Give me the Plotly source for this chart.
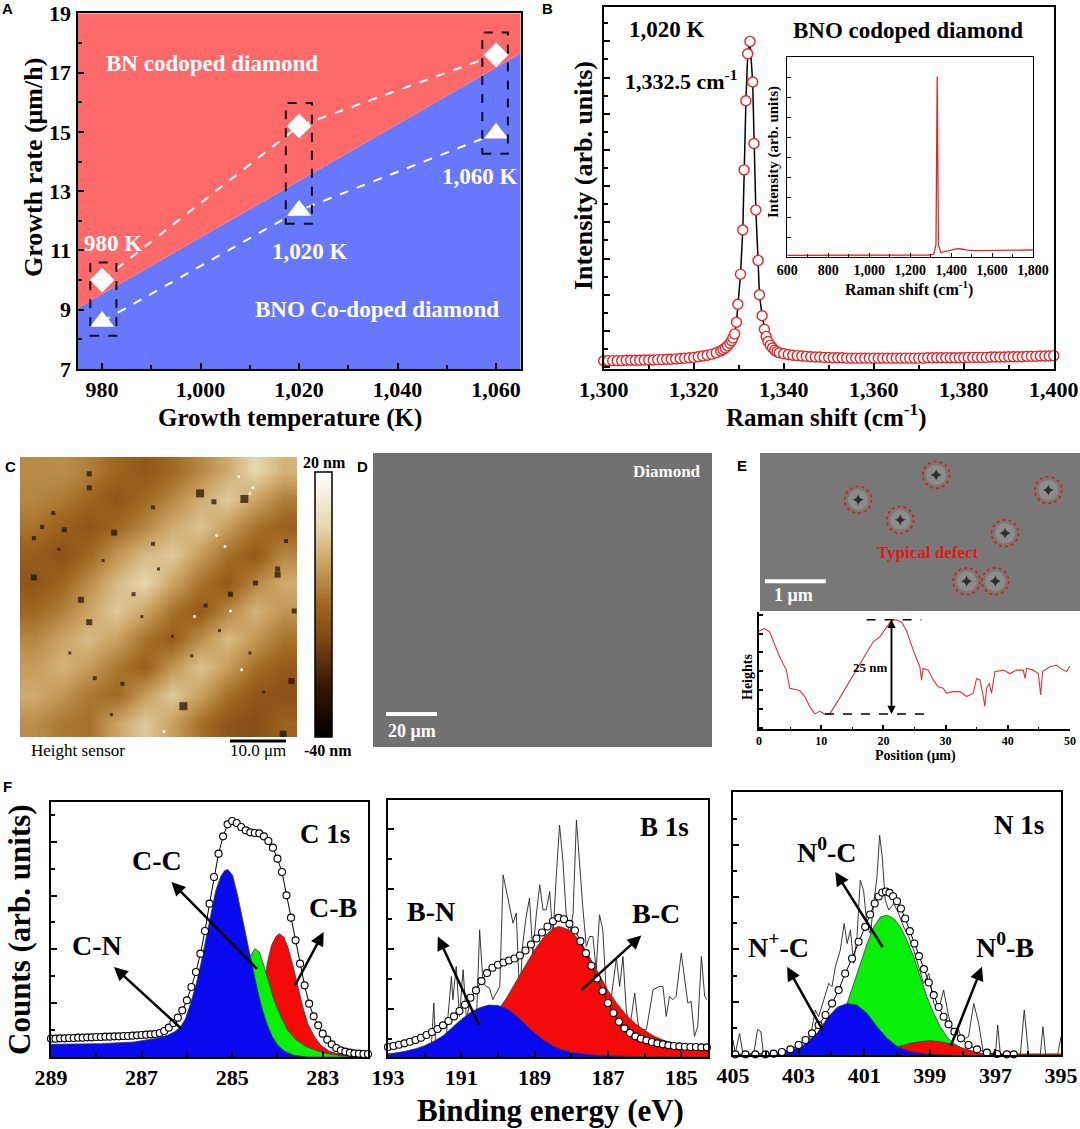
import plotly.graph_objects as go

W, H = 1080, 1129
SERIF = "Liberation Serif"
SANS = "Liberation Sans"
RED_A = "#FE6A6A"
BLUE_A = "#6878FD"
RAMAN_RED = "#E0262A"

# ---------------- A: growth rate vs temperature ----------------
temp_K = [980, 1020, 1060]
rate_BN = [10.0, 15.2, 17.6]
rate_BNO = [8.6, 12.35, 14.95]
boundary_T = [975, 1065]
boundary_rate = [9.05, 17.65]
top_rate = [19, 19]
box_T0 = [977.6, 1017.3, 1057.2]
box_T1 = [982.9, 1022.6, 1062.4]
box_r0 = [8.12, 11.90, 14.26]
box_r1 = [10.59, 15.97, 18.35]
temp_labels = ["980 K", "1,020 K", "1,060 K"]
temp_label_T = [982.3, 1022.2, 1056.8]
temp_label_r = [11.25, 10.97, 13.49]

# ---------------- B: Raman ----------------
raman_x = [1300, 1301, 1302, 1303, 1304, 1305, 1306, 1307, 1308, 1309, 1310, 1311, 1312, 1313,
           1314, 1315, 1316, 1317, 1318, 1319, 1320, 1321, 1322, 1323, 1324, 1325, 1326,
           1326.5, 1327, 1327.5, 1328, 1328.4, 1328.7, 1329.1, 1329.5, 1329.8, 1330.4, 1330.9,
           1331.2, 1331.6, 1332.0, 1332.5, 1333.1, 1333.4, 1333.8, 1334.3, 1334.6, 1335.2,
           1335.7, 1336.1, 1336.5, 1337.0, 1337.5, 1338, 1338.5, 1339,
           1340, 1341, 1342, 1343, 1344, 1345, 1346, 1347, 1348, 1349, 1350, 1351, 1352, 1353,
           1354, 1355, 1356, 1357, 1358, 1359, 1360, 1361, 1362, 1363, 1364, 1365, 1366, 1367,
           1368, 1369, 1370, 1371, 1372, 1373, 1374, 1375, 1376, 1377, 1378, 1379, 1380, 1381,
           1382, 1383, 1384, 1385, 1386, 1387, 1388, 1389, 1390, 1391, 1392, 1393, 1394, 1395,
           1396, 1397, 1398, 1399, 1400]
raman_y = [23, 23, 23, 23, 23, 24, 24, 24, 24, 25, 25, 25, 26, 26,
           27, 27, 28, 29, 30, 31, 32, 34, 36, 38, 41, 45, 50,
           54, 58, 64, 71, 78, 86, 97, 129, 179, 262, 384,
           550, 741, 871, 905, 793, 623, 439, 300, 205, 147,
           110, 90, 76, 66, 58, 52, 48, 45,
           42, 40, 38, 37, 36, 35, 34, 33, 33, 32, 32, 31, 31, 31,
           30, 30, 30, 30, 30, 30, 30, 30, 30, 30, 30, 30, 30, 30,
           30, 30, 30, 30, 31, 31, 31, 31, 31, 31, 31, 31, 31, 32,
           32, 32, 32, 32, 33, 33, 33, 33, 34, 34, 34, 34, 35, 35,
           35, 36, 36, 36, 37]
inset_x = [600, 800, 1000, 1200, 1290, 1315, 1326, 1332, 1338, 1350, 1380, 1410, 1430, 1450,
           1480, 1520, 1600, 1700, 1800]
inset_y = [8, 8, 8, 9, 10, 14, 60, 903, 60, 22, 30, 40, 42, 40, 34, 32, 32, 33, 35]

# ---------------- C: AFM height map (coarse readings, 0 = -40 nm, 1 = 20 nm) ----------------
afm_cols = [0.05, 0.15, 0.25, 0.35, 0.45, 0.55, 0.65, 0.75, 0.85, 0.95]
afm_rows = [0.05, 0.15, 0.25, 0.35, 0.45, 0.55, 0.65, 0.75, 0.85, 0.95]
afm_height = [
    [0.59, 0.60, 0.56, 0.49, 0.44, 0.50, 0.58, 0.68, 0.80, 0.70],
    [0.58, 0.55, 0.49, 0.43, 0.50, 0.58, 0.68, 0.76, 0.66, 0.56],
    [0.53, 0.47, 0.43, 0.50, 0.58, 0.68, 0.74, 0.64, 0.53, 0.47],
    [0.46, 0.42, 0.50, 0.62, 0.72, 0.76, 0.64, 0.52, 0.45, 0.58],
    [0.43, 0.49, 0.60, 0.72, 0.80, 0.66, 0.53, 0.45, 0.58, 0.68],
    [0.50, 0.56, 0.66, 0.76, 0.66, 0.53, 0.45, 0.58, 0.70, 0.62],
    [0.58, 0.66, 0.72, 0.65, 0.53, 0.46, 0.60, 0.72, 0.63, 0.53],
    [0.64, 0.70, 0.64, 0.54, 0.47, 0.62, 0.74, 0.64, 0.52, 0.45],
    [0.68, 0.62, 0.54, 0.50, 0.64, 0.76, 0.65, 0.52, 0.44, 0.42],
    [0.60, 0.54, 0.52, 0.66, 0.76, 0.65, 0.52, 0.43, 0.40, 0.48],
]
pit_x = [0.25, 0.25, 0.65, 0.81, 0.70, 0.48, 0.34, 0.08, 0.05, 0.16, 0.05, 0.22, 0.25, 0.41,
         0.93, 0.93, 0.85, 0.76, 0.67, 0.99, 0.59, 0.98, 0.95, 0.37, 0.27, 0.48, 0.96, 0.12, 0.30,
         0.14, 0.55, 0.62, 0.44, 0.72, 0.83, 0.18, 0.33, 0.50, 0.88]
pit_y = [0.06, 0.11, 0.13, 0.15, 0.16, 0.18, 0.27, 0.25, 0.29, 0.26, 0.43, 0.51, 0.59, 0.49,
         0.40, 0.42, 0.45, 0.49, 0.53, 0.55, 0.89, 0.80, 0.99, 0.81, 0.79, 0.31, 0.30, 0.20, 0.37,
         0.33, 0.64, 0.71, 0.57, 0.62, 0.70, 0.70, 0.92, 0.40, 0.84]
pit_size = [5, 5, 8, 8, 5, 4, 6, 4, 4, 5, 6, 6, 6, 4, 5, 6, 5, 5, 4, 5, 8, 6, 7, 4, 4, 4, 4, 4, 3,
            3, 3, 3, 3, 3, 3, 3, 3, 3, 3]
speck_x = [0.84, 0.83, 0.71, 0.74, 0.79, 0.63, 0.52, 0.80, 0.76]
speck_y = [0.11, 0.13, 0.28, 0.32, 0.07, 0.57, 0.98, 0.76, 0.55]

# ---------------- E: SEM defects and height profile ----------------
defect_x = [1.61, 2.30, 2.89, 4.73, 4.02, 3.39, 3.86]
defect_y = [0.77, 1.10, 0.36, 0.61, 1.32, 2.11, 2.11]
defect_r = 0.22
prof_x = [0, 0.91, 1.72, 2.52, 3.33, 4.40, 4.94, 6.01, 6.55, 7.35, 8.15, 8.96, 9.76, 10.57,
          11.37, 12.45, 14.06, 15.67, 17.27, 18.35, 19.42, 20.49, 21.30, 22.10, 22.91, 23.71,
          24.79, 25.86, 26.13, 26.39, 27.20, 28.00, 28.81, 29.61, 30.15, 31.22, 32.30, 33.37,
          34.44, 34.98, 35.52, 36.05, 36.32, 36.59, 37.02, 37.39, 37.93, 39.27, 40.34, 41.42,
          42.49, 42.76, 43.03, 44.10, 44.90, 45.28, 45.60, 46.78, 47.85, 48.93, 49.46, 50.0]
prof_y = [26.0, 26.6, 25.7, 22.6, 19.1, 15.6, 10.8, 10.4, 10.2, 8.6, 6.0, 4.0, 4.7, 3.95,
          4.0, 6.8, 11.2, 15.6, 20.0, 23.1, 24.4, 27.0, 28.8, 28.95, 28.3, 26.1,
          20.9, 16.5, 13.0, 16.1, 15.6, 13.0, 11.2, 10.8, 9.5, 9.9, 9.9, 8.6,
          9.5, 13.4, 13.0, 8.6, 6.0, 10.8, 12.1, 9.5, 15.2, 15.6, 14.7, 15.6,
          15.6, 13.4, 16.1, 15.6, 14.7, 9.0, 15.2, 16.5, 16.9, 15.6, 15.2, 16.7]
step_top = 28.95
step_bottom = 3.95
step_pos = 21.3

# ---------------- F: XPS ----------------
c1s_env_x = [289.0, 288.9, 288.8, 288.7, 288.6, 288.5, 288.4, 288.3, 288.2, 288.1, 288.0, 287.9,
             287.8, 287.7, 287.6, 287.5, 287.4, 287.3, 287.2, 287.1, 287.0, 286.9, 286.8, 286.7,
             286.6, 286.5, 286.4, 286.3, 286.2, 286.1, 286.0, 285.9, 285.8, 285.7, 285.6, 285.5,
             285.4, 285.3, 285.2, 285.1, 285.0, 284.9, 284.8, 284.7, 284.6, 284.5, 284.4, 284.3,
             284.2, 284.1, 284.0, 283.9, 283.8, 283.7, 283.6, 283.5, 283.4, 283.3, 283.2, 283.1,
             283.0, 282.9, 282.8, 282.7, 282.6, 282.5, 282.4, 282.3, 282.2, 282.1, 282.0]
c1s_env_y = [55, 55, 56, 56, 57, 57, 58, 58, 59, 59, 60, 60,
             61, 61, 62, 62, 63, 63, 64, 65, 66, 67, 68, 69,
             72, 78, 88, 102, 118, 140, 170, 210, 255, 310, 378, 460,
             540, 610, 662, 698, 708, 702, 690, 680, 674, 672, 671, 662,
             648, 628, 595, 555, 485, 418, 350, 280, 215, 160, 122, 95,
             70, 52, 38, 27, 20, 16, 13, 11, 10, 9, 9]
c1s_blue_x = [289.0, 287.91, 287.17, 286.73, 286.43, 286.28, 286.14, 286.03, 285.92, 285.80,
              285.69, 285.58, 285.47, 285.36, 285.25, 285.16, 285.09, 284.99, 284.88, 284.77,
              284.66, 284.55, 284.44, 284.33, 284.22, 284.11, 283.99, 283.85, 283.63, 283.33, 282.0]
c1s_blue_y = [38, 40, 45, 55, 65, 75, 90, 115, 160, 215, 280, 355, 430, 500, 542, 560, 562, 545,
              485, 410, 340, 270, 200, 140, 95, 60, 35, 18, 5, 0, 0]
c1s_green_x = [285.3, 285.03, 284.88, 284.77, 284.66, 284.59, 284.50, 284.40, 284.29, 284.18,
               284.07, 283.92, 283.77, 283.59, 283.37, 283.11, 282.82, 282.45, 282.0]
c1s_green_y = [0, 20, 60, 130, 240, 305, 325, 315, 270, 220, 170, 120, 80, 52, 32, 18, 8, 2, 0]
c1s_red_x = [284.7, 284.62, 284.51, 284.42, 284.35, 284.28, 284.22, 284.13, 284.03, 283.96,
             283.86, 283.77, 283.66, 283.55, 283.44, 283.33, 283.18, 283.04, 282.85, 282.59,
             282.30, 282.0]
c1s_red_y = [0, 5, 25, 70, 140, 230, 285, 335, 362, 370, 360, 330, 275, 210, 150, 100, 60, 35,
             17, 7, 2, 0]

b1s_env_x = [193.0, 192.85, 192.7, 192.55, 192.4, 192.25, 192.1, 191.95, 191.8, 191.65, 191.5,
             191.35, 191.2, 191.05, 190.9, 190.75, 190.6, 190.45, 190.3, 190.15, 190.0, 189.85,
             189.7, 189.55, 189.4, 189.25, 189.1, 188.95, 188.8, 188.65, 188.5, 188.35, 188.2,
             188.05, 187.9, 187.75, 187.6, 187.45, 187.3, 187.15, 187.0, 186.85, 186.7, 186.55,
             186.4, 186.25, 186.1, 185.95, 185.8, 185.65, 185.5, 185.35, 185.2, 185.05, 184.9,
             184.75, 184.6, 184.45, 184.3]
b1s_env_y = [30, 33, 37, 41, 46, 51, 58, 66, 75, 84, 95, 108, 122, 138, 157, 178, 200, 228, 252,
             268, 277, 284, 290, 296, 305, 320, 338, 356, 374, 392, 408, 418, 414, 400, 380, 348,
             312, 274, 236, 198, 162, 132, 106, 86, 72, 62, 55, 50, 45, 41, 38, 35, 33, 32, 31,
             30, 30, 29, 29]
b1s_blue_x = [193.0, 192.75, 192.5, 192.25, 192.0, 191.75, 191.5, 191.25, 191.0, 190.75, 190.5,
              190.25, 190.0, 189.75, 189.5, 189.25, 189.0, 188.75, 188.5, 188.25, 188.0, 187.5,
              187.0, 186.0, 184.27]
b1s_blue_y = [7, 12, 18, 25, 34, 47, 64, 88, 113, 134, 148, 156, 155, 145, 124, 98, 72, 50, 33,
              22, 14, 7, 4, 1, 0]
b1s_red_x = [193.0, 192.5, 192.0, 191.5, 191.0, 190.5, 190.25, 190.0, 189.75, 189.5, 189.25,
             189.0, 188.75, 188.5, 188.35, 188.25, 188.0, 187.75, 187.5, 187.25, 187.0, 186.75,
             186.5, 186.25, 186.0, 185.75, 185.5, 185.25, 185.0, 184.75, 184.5, 184.27]
b1s_red_y = [10, 14, 20, 30, 48, 80, 108, 140, 180, 228, 275, 322, 360, 386, 392, 390, 378, 346,
             300, 250, 200, 160, 126, 100, 80, 63, 51, 42, 35, 30, 26, 23]
b1s_raw_x = [193.0, 192.59, 192.14, 191.82, 191.75, 191.70, 191.41, 191.27, 191.23, 191.14,
             191.05, 190.95, 190.86, 190.77, 190.59, 190.50, 190.41, 190.32, 190.23, 190.14,
             190.05, 189.95, 189.86, 189.77, 189.68, 189.59, 189.50, 189.41, 189.32, 189.23,
             189.14, 189.05, 188.95, 188.86, 188.77, 188.68, 188.59, 188.50, 188.41, 188.32,
             188.23, 188.14, 188.05, 187.95, 187.86, 187.77, 187.68, 187.59, 187.50, 187.41,
             187.32, 187.23, 187.14, 187.05, 186.95, 186.77, 186.68, 186.59, 186.50, 186.41,
             186.27, 186.18, 186.14, 185.95, 185.86, 185.77, 185.59, 185.50, 185.41, 185.32,
             185.23, 185.14, 185.00, 184.91, 184.82, 184.73, 184.64, 184.55, 184.45, 184.36,
             184.30]
b1s_raw_y = [7, 12, 17, 27, 162, 32, 62, 242, 172, 272, 122, 262, 112, 162, 102, 382, 222, 212,
             207, 172, 192, 212, 547, 502, 452, 402, 432, 182, 342, 422, 477, 312, 432, 517, 442,
             442, 497, 362, 542, 697, 592, 432, 362, 432, 712, 562, 442, 332, 362, 362, 262, 427,
             382, 202, 142, 297, 212, 302, 142, 82, 192, 102, 82, 82, 142, 202, 212, 212, 122,
             182, 172, 182, 312, 242, 162, 167, 62, 92, 302, 182, 172]

n1s_env_x = [404.93, 404.62, 404.32, 404.01, 403.76, 403.51, 403.25, 403.0, 402.79, 402.59,
             402.39, 402.18, 401.98, 401.78, 401.58, 401.37, 401.17, 400.97, 400.82, 400.68,
             400.56, 400.45, 400.34, 400.23, 400.12, 400.0, 399.88, 399.75, 399.61, 399.47,
             399.33, 399.18, 399.03, 398.88, 398.73, 398.58, 398.43, 398.25, 398.05, 397.82,
             397.56, 397.26, 396.95, 396.65, 396.44]
n1s_env_y = [2, 2, 2, 2, 4, 9, 17, 30, 45, 65, 90, 120, 155, 195, 245, 290, 340, 385, 422, 455,
             476, 488, 491, 487, 477, 462, 440, 410, 372, 335, 297, 258, 218, 180, 144, 115, 92,
             70, 50, 30, 17, 7, 3, 2, 2]
n1s_blue_x = [404.0, 403.86, 403.35, 402.85, 402.44, 402.13, 401.83, 401.52, 401.22, 400.91,
              400.61, 400.30, 399.99, 399.59, 399.08, 398.3]
n1s_blue_y = [0, 3, 10, 30, 65, 110, 143, 155, 150, 125, 85, 50, 25, 10, 3, 0]
n1s_green_x = [402.8, 402.34, 401.93, 401.73, 401.52, 401.32, 401.12, 400.91, 400.71, 400.50,
               400.30, 400.10, 399.90, 399.70, 399.49, 399.29, 399.09, 398.88, 398.68, 398.48,
               398.27, 397.97, 397.46, 396.9]
n1s_green_y = [0, 15, 55, 95, 155, 215, 275, 335, 385, 415, 420, 410, 385, 345, 295, 235, 175,
               125, 85, 55, 35, 17, 5, 0]
n1s_red_x = [404.2, 403.35, 402.34, 401.32, 400.50, 399.99, 399.59, 399.29, 398.98, 398.68,
             398.37, 398.07, 397.76, 397.46, 397.05, 395.0]
n1s_red_y = [0, 2, 5, 10, 17, 25, 35, 40, 43, 40, 33, 23, 13, 5, 3, 3]
n1s_raw_x = [405.0, 404.93, 404.80, 404.70, 404.37, 404.25, 404.15, 404.07, 403.35, 402.85,
             402.64, 402.49, 402.39, 402.24, 402.08, 401.98, 401.88, 401.73, 401.61, 401.52,
             401.42, 401.32, 401.22, 401.12, 401.02, 400.91, 400.81, 400.71, 400.61, 400.53,
             400.45, 400.36, 400.25, 400.10, 399.95, 399.80, 399.64, 399.49, 399.34, 399.19,
             399.03, 398.88, 398.73, 398.58, 398.42, 398.27, 398.15, 398.02, 397.82, 397.66,
             397.51, 397.36, 397.00, 396.93, 396.85, 396.24, 396.12, 395.99, 395.63, 395.55,
             395.47, 395.10, 395.0]
n1s_raw_y = [45, 5, 65, 5, 2, 77, 70, 2, 2, 15, 55, 135, 115, 165, 215, 205, 265, 315, 395,
             335, 375, 275, 355, 525, 495, 385, 365, 455, 535, 660, 595, 465, 435, 455, 425, 385,
             355, 315, 265, 215, 245, 155, 135, 195, 115, 65, 85, 45, 55, 155, 95, 2, 2, 90, 2,
             2, 135, 2, 2, 85, 2, 2, 55]

# ======================= helpers =======================
def xd(a, b):
    return [a / W, b / W]


def yd(top, bottom):
    return [1 - bottom / H, 1 - top / H]


def px(x):
    return x / W


def py(y):
    return 1 - y / H


annotations = []
shapes = []


def txt(x, y, s, size, color="black", bold=True, family=SERIF, angle=0, xanchor="center",
        yanchor="middle"):
    annotations.append(dict(x=px(x), y=py(y), xref="paper", yref="paper",
                            text=("<b>%s</b>" % s) if bold else s, showarrow=False,
                            font=dict(family=family, size=size, color=color), textangle=angle,
                            xanchor=xanchor, yanchor=yanchor))


def txtd(x, y, s, size, xr, yr, color="black", bold=True, family=SERIF):
    annotations.append(dict(x=x, y=y, xref=xr, yref=yr, text=("<b>%s</b>" % s) if bold else s,
                            showarrow=False, font=dict(family=family, size=size, color=color)))


def arrow(hx, hy, tx, ty, xr, yr, width=2.5, color="black"):
    annotations.append(dict(x=hx, y=hy, ax=tx, ay=ty, xref=xr, yref=yr, axref=xr, ayref=yr,
                            text="", showarrow=True, arrowhead=2, arrowsize=1.1,
                            arrowwidth=width, arrowcolor=color))


fig = go.Figure()
NOHOVER = "skip"

# ======================= A =======================
fig.add_trace(go.Scatter(x=boundary_T, y=boundary_rate, mode="lines", line=dict(width=0),
                         fill="tozeroy", fillcolor=BLUE_A, xaxis="x", yaxis="y", hoverinfo=NOHOVER))
fig.add_trace(go.Scatter(x=boundary_T, y=top_rate, mode="lines", line=dict(width=0),
                         fill="tonexty", fillcolor=RED_A, xaxis="x", yaxis="y", hoverinfo=NOHOVER))
fig.add_trace(go.Scatter(x=temp_K, y=rate_BN, mode="lines+markers",
                         line=dict(color="white", width=2, dash="dash"),
                         marker=dict(symbol="diamond", size=19, color="white", line=dict(width=0)),
                         xaxis="x", yaxis="y"))
fig.add_trace(go.Scatter(x=temp_K, y=rate_BNO, mode="lines+markers",
                         line=dict(color="white", width=2, dash="dash"),
                         marker=dict(symbol="triangle-up", size=21, color="white", line=dict(width=0)),
                         xaxis="x", yaxis="y"))
for i in range(len(temp_K)):
    shapes.append(dict(type="rect", xref="x", yref="y", x0=box_T0[i], x1=box_T1[i], y0=box_r0[i],
                       y1=box_r1[i], line=dict(color="#111", width=2, dash="dash")))
    txtd(temp_label_T[i], temp_label_r[i], temp_labels[i], 23, "x", "y", color="white")
txtd(1002.3, 17.31, "BN codoped diamond", 23, "x", "y", color="white")
txtd(1035.8, 9.02, "BNO Co-doped diamond", 23, "x", "y", color="white")
txt(7, 8, "A", 15, family=SANS)
txt(33, 168, "Growth rate (μm/h)", 26, angle=-90)
txt(290, 418, "Growth temperature (K)", 25)

# ======================= B =======================
fit_x = [v for v in raman_x if 1328.6 <= v <= 1336.6]
fit_y = [raman_y[i] for i, v in enumerate(raman_x) if 1328.6 <= v <= 1336.6]
fig.add_trace(go.Scatter(x=fit_x, y=fit_y, mode="lines", line=dict(color="black", width=1.5),
                         xaxis="x2", yaxis="y2", hoverinfo=NOHOVER))
fig.add_trace(go.Scatter(x=raman_x, y=raman_y, mode="markers",
                         marker=dict(symbol="circle", size=10, color="white",
                                     line=dict(color=RAMAN_RED, width=1.4)),
                         xaxis="x2", yaxis="y2", cliponaxis=False))
fig.add_trace(go.Scatter(x=inset_x, y=inset_y, mode="lines", line=dict(color=RAMAN_RED, width=1.3),
                         xaxis="x3", yaxis="y3"))
txt(547, 8, "B", 15, family=SANS)
txt(667, 30, "1,020 K", 23)
txt(908, 31, "BNO codoped diamond", 23)
txt(681, 80, "1,332.5 cm<sup>-1</sup>", 22)
txt(583, 176, "Intensity (arb. units)", 26, angle=-90)
txt(826, 415, "Raman shift (cm<sup>-1</sup>)", 25)
txt(774, 152, "Intensity (arb. units)", 15, angle=-90)
txt(909, 288, "Raman shift (cm<sup>-1</sup>)", 16)

# ======================= C =======================
AFM_SCALE = [[0.0, "#000000"], [0.2, "#3a1800"], [0.35, "#7a4010"], [0.5, "#a06820"],
             [0.65, "#c9a060"], [0.8, "#e8d8b0"], [1.0, "#ffffff"]]
fig.add_trace(go.Heatmap(z=afm_height, x=afm_cols, y=afm_rows, zmin=0, zmax=1, zsmooth="best",
                         colorscale=AFM_SCALE, xaxis="x4", yaxis="y4", hoverinfo=NOHOVER,
                         colorbar=dict(x=px(315), xanchor="left", xref="paper", y=py(472),
                                       yanchor="top", yref="paper", len=265, lenmode="pixels",
                                       thickness=17, thicknessmode="pixels", outlinewidth=1.5,
                                       outlinecolor="black", showticklabels=False, ticks="",
                                       xpad=0, ypad=0)))
fig.add_trace(go.Scatter(x=pit_x, y=pit_y, mode="markers",
                         marker=dict(symbol="square", size=pit_size, color="#1e0c00",
                                     line=dict(width=0)),
                         xaxis="x4", yaxis="y4"))
fig.add_trace(go.Scatter(x=speck_x, y=speck_y, mode="markers",
                         marker=dict(symbol="circle", size=3, color="#fff6dc", line=dict(width=0)),
                         xaxis="x4", yaxis="y4"))
txt(10, 466, "C", 15, family=SANS)
txt(78, 751, "Height sensor", 17, bold=False)
txt(258, 751, "10.0 μm", 17, bold=False)
shapes.append(dict(type="line", xref="paper", yref="paper", x0=px(230), x1=px(286), y0=py(741),
                   y1=py(741), line=dict(color="black", width=3)))
txt(324, 462, "20 nm", 16)
txt(328, 751, "-40 nm", 16)

# ======================= D =======================
shapes.append(dict(type="rect", xref="paper", yref="paper", x0=px(373), x1=px(712), y0=py(747),
                   y1=py(453), fillcolor="#717171", line=dict(width=0), layer="below"))
shapes.append(dict(type="line", xref="paper", yref="paper", x0=px(386), x1=px(437), y0=py(714),
                   y1=py(714), line=dict(color="white", width=4)))
txt(362, 466, "D", 15, family=SANS)
txt(667, 472, "Diamond", 17, color="white")
txt(412, 731, "20 μm", 18, color="white")

# ======================= E =======================
shapes.append(dict(type="rect", xref="x5", yref="y5", x0=0, x1=5.25, y0=0, y1=2.6,
                   fillcolor="#787878", line=dict(width=0), layer="below"))
fig.add_trace(go.Scatter(x=defect_x, y=defect_y, mode="markers",
                         marker=dict(symbol="circle", size=20, color="#8c8c8c", line=dict(width=0)),
                         xaxis="x5", yaxis="y5"))
fig.add_trace(go.Scatter(x=defect_x, y=defect_y, mode="markers",
                         marker=dict(symbol="star-diamond", size=8, color="#2e2e2e",
                                     line=dict(width=0)),
                         xaxis="x5", yaxis="y5"))
for i in range(len(defect_x)):
    shapes.append(dict(type="circle", xref="x5", yref="y5", x0=defect_x[i] - defect_r,
                       x1=defect_x[i] + defect_r, y0=defect_y[i] - defect_r,
                       y1=defect_y[i] + defect_r, line=dict(color="#E01818", width=1.6, dash="dot")))
shapes.append(dict(type="line", xref="x5", yref="y5", x0=0.08, x1=1.08, y0=2.11, y1=2.11,
                   line=dict(color="white", width=4)))
txtd(0.55, 2.34, "1 μm", 18, "x5", "y5", color="white")
txtd(2.76, 1.64, "Typical defect", 17, "x5", "y5", color="#E01818")
txt(742, 465, "E", 15, family=SANS)

fig.add_trace(go.Scatter(x=prof_x, y=prof_y, mode="lines", line=dict(color="#E0303A", width=1.1),
                         xaxis="x6", yaxis="y6"))
shapes.append(dict(type="line", xref="x6", yref="y6", x0=17.3, x1=26.1, y0=step_top, y1=step_top,
                   line=dict(color="black", width=1.5, dash="dash")))
shapes.append(dict(type="line", xref="x6", yref="y6", x0=10.6, x1=26.7, y0=step_bottom,
                   y1=step_bottom, line=dict(color="black", width=1.5, dash="dash")))
arrow(step_pos, step_top, step_pos, step_bottom, "x6", "y6", width=1.5)
arrow(step_pos, step_bottom, step_pos, step_top, "x6", "y6", width=1.5)
txtd(17.8, 16.2, "25 nm", 13, "x6", "y6")
txt(747, 677, "Heights", 14, angle=-90)
txt(915, 756, "Position (μm)", 14)

# ======================= F =======================
BLUE_F, GREEN_F, RED_F = "#0A0AF0", "#08F008", "#F50A0A"


def comp(xs, ys, color, xa, ya):
    fig.add_trace(go.Scatter(x=xs, y=ys, mode="lines", line=dict(color="#3a3a3a", width=0.8),
                             fill="tozeroy", fillcolor=color, xaxis=xa, yaxis=ya,
                             hoverinfo=NOHOVER))


def envelope(xs, ys, xa, ya):
    fig.add_trace(go.Scatter(x=xs, y=ys, mode="lines+markers", line=dict(color="black", width=1),
                             marker=dict(symbol="circle", size=7, color="white",
                                         line=dict(color="black", width=1.1)),
                             xaxis=xa, yaxis=ya, cliponaxis=False))


# C 1s (red under green under blue)
comp(c1s_red_x, c1s_red_y, RED_F, "x7", "y7")
comp(c1s_green_x, c1s_green_y, GREEN_F, "x7", "y7")
comp(c1s_blue_x, c1s_blue_y, BLUE_F, "x7", "y7")
envelope(c1s_env_x, c1s_env_y, "x7", "y7")
arrow(287.61, 270, 286.08, 80, "x7", "y7")
arrow(286.34, 525, 284.42, 260, "x7", "y7")
arrow(282.98, 375, 283.63, 210, "x7", "y7")
txtd(287.98, 335, "C-N", 28, "x7", "y7")
txtd(286.67, 590, "C-C", 28, "x7", "y7")
txtd(282.78, 450, "C-B", 28, "x7", "y7")
txtd(282.96, 670, "C 1s", 27, "x7", "y7")

# B 1s
fig.add_trace(go.Scatter(x=b1s_raw_x, y=b1s_raw_y, mode="lines",
                         line=dict(color="#222", width=0.9), xaxis="x8", yaxis="y8",
                         hoverinfo=NOHOVER))
comp(b1s_red_x, b1s_red_y, RED_F, "x8", "y8")
comp(b1s_blue_x, b1s_blue_y, BLUE_F, "x8", "y8")
envelope(b1s_env_x, b1s_env_y, "x8", "y8")
arrow(191.64, 362, 190.5, 92, "x8", "y8")
arrow(186.09, 365, 187.77, 197, "x8", "y8")
txtd(191.82, 437, "B-N", 28, "x8", "y8")
txtd(185.68, 432, "B-C", 28, "x8", "y8")
txtd(185.45, 692, "B 1s", 27, "x8", "y8")

# N 1s
fig.add_trace(go.Scatter(x=n1s_raw_x, y=n1s_raw_y, mode="lines",
                         line=dict(color="#222", width=0.9), xaxis="x9", yaxis="y9",
                         hoverinfo=NOHOVER))
comp(n1s_green_x, n1s_green_y, GREEN_F, "x9", "y9")
comp(n1s_red_x, n1s_red_y, RED_F, "x9", "y9")
comp(n1s_blue_x, n1s_blue_y, BLUE_F, "x9", "y9")
envelope(n1s_env_x, n1s_env_y, "x9", "y9")
arrow(401.88, 550, 400.41, 320, "x9", "y9")
arrow(403.35, 265, 402.24, 70, "x9", "y9")
arrow(397.41, 265, 398.37, 25, "x9", "y9")
txtd(402.13, 615, "N<sup>0</sup>-C", 28, "x9", "y9")
txtd(403.61, 330, "N<sup>+</sup>-C", 28, "x9", "y9")
txtd(396.70, 330, "N<sup>0</sup>-B", 28, "x9", "y9")
txtd(396.29, 690, "N 1s", 27, "x9", "y9")

txt(7, 786, "F", 15, family=SANS)
txt(19, 930, "Counts (arb. units)", 31, angle=-90)
txt(550, 1110, "Binding energy (eV)", 31)

# ======================= axes =======================
def frame(**kw):
    d = dict(showline=True, mirror=True, linecolor="black", linewidth=2, showgrid=False,
             zeroline=False, ticks="inside", tickwidth=2, ticklen=6, tickcolor="black",
             automargin=False)
    d.update(kw)
    return d


def bold(vals, fmt):
    return ["<b>%s</b>" % fmt(v) for v in vals]


TF22 = dict(family=SERIF, size=22, color="black")

a_xt = [980, 1000, 1020, 1040, 1060]
a_yt = [7, 9, 11, 13, 15, 17, 19]
b_xt = [1300, 1320, 1340, 1360, 1380, 1400]
in_xt = [600, 800, 1000, 1200, 1400, 1600, 1800]
e_xt = [0, 10, 20, 30, 40, 50]
c1s_xt = [289, 287, 285, 283]
b1s_xt = [193, 191, 189, 187, 185]
n1s_xt = [405, 403, 401, 399, 397, 395]


def comma(v):
    return "{:,}".format(v)


HIDDEN = dict(visible=False, automargin=False, showgrid=False, zeroline=False)

layout = dict(
    template="none",
    width=W, height=H, autosize=False, margin=dict(l=0, r=0, t=0, b=0, pad=0, autoexpand=False),
    paper_bgcolor="white", plot_bgcolor="rgba(0,0,0,0)", showlegend=False,
    xaxis=frame(domain=xd(77.5, 520.7), range=[975, 1065], anchor="y", tickvals=a_xt,
                ticktext=bold(a_xt, comma), tickfont=TF22,
                minor=dict(ticks="inside", ticklen=4, tickwidth=1.5, dtick=10, tick0=980)),
    yaxis=frame(domain=yd(13.3, 369), range=[7, 19], anchor="x", tickvals=a_yt,
                ticktext=bold(a_yt, str), tickfont=TF22,
                minor=dict(ticks="inside", ticklen=4, tickwidth=1.5, dtick=1, tick0=7)),
    xaxis2=frame(domain=xd(603.7, 1053.8), range=[1300, 1400], anchor="y2", tickvals=b_xt,
                 ticktext=bold(b_xt, comma), tickfont=TF22,
                 minor=dict(ticks="inside", ticklen=4, tickwidth=1.5, dtick=10, tick0=1300)),
    yaxis2=frame(domain=yd(7, 369), range=[0, 1000], anchor="x2", showticklabels=False,
                 tick0=5, dtick=100,
                 minor=dict(ticks="inside", ticklen=4, tickwidth=1.5, dtick=50, tick0=5)),
    xaxis3=frame(domain=xd(787.2, 1033.1), range=[600, 1800], anchor="y3", linewidth=1.2,
                 tickwidth=1.2, ticklen=4, tickvals=in_xt, ticktext=bold(in_xt, comma),
                 tickfont=dict(family=SERIF, size=14, color="black"),
                 minor=dict(ticks="inside", ticklen=3, tickwidth=1, dtick=100, tick0=600)),
    yaxis3=frame(domain=yd(57, 257), range=[0, 1000], anchor="x3", linewidth=1.2, tickwidth=1.2,
                 ticklen=4, showticklabels=False, tick0=0, dtick=100),
    xaxis4=dict(domain=xd(20, 297), range=[0, 1], anchor="y4", **HIDDEN),
    yaxis4=dict(domain=yd(457, 737), range=[1, 0], anchor="x4", **HIDDEN),
    xaxis5=dict(domain=xd(760, 1080), range=[0, 5.25], anchor="y5", **HIDDEN),
    yaxis5=dict(domain=yd(453, 611), range=[2.6, 0], anchor="x5", **HIDDEN),
    xaxis6=frame(domain=xd(759, 1070), range=[0, 50], anchor="y6", mirror=False, linewidth=1.5,
                 tickwidth=1.5, ticklen=4, tickvals=e_xt, ticktext=bold(e_xt, str),
                 tickfont=dict(family=SERIF, size=12, color="black"),
                 minor=dict(ticks="inside", ticklen=2, tickwidth=1, dtick=5, tick0=0)),
    yaxis6=frame(domain=yd(612, 729), range=[0, 31], anchor="x6", mirror=False, linewidth=1.5,
                 tickwidth=1.5, ticklen=4, showticklabels=False, tick0=0.3, dtick=5),
    xaxis7=frame(domain=xd(51, 368), range=[289, 282], anchor="y7", tickvals=c1s_xt,
                 ticktext=bold(c1s_xt, str), tickfont=TF22,
                 minor=dict(ticks="inside", ticklen=4, tickwidth=1.5, dtick=1, tick0=282)),
    yaxis7=frame(domain=yd(802, 1057), range=[0, 765], anchor="x7", showticklabels=False,
                 tick0=1.5, dtick=161,
                 minor=dict(ticks="inside", ticklen=4, tickwidth=1.5, dtick=80.5, tick0=1.5)),
    xaxis8=frame(domain=xd(388, 708), range=[193, 184.27], anchor="y8", tickvals=b1s_xt,
                 ticktext=bold(b1s_xt, str), tickfont=TF22,
                 minor=dict(ticks="inside", ticklen=4, tickwidth=1.5, dtick=1, tick0=184)),
    yaxis8=frame(domain=yd(800, 1057), range=[0, 772], anchor="x8", showticklabels=False,
                 tick0=144, dtick=180,
                 minor=dict(ticks="inside", ticklen=4, tickwidth=1.5, dtick=90, tick0=144)),
    xaxis9=frame(domain=xd(733, 1061), range=[405, 395], anchor="y9", tickvals=n1s_xt,
                 ticktext=bold(n1s_xt, str), tickfont=TF22,
                 minor=dict(ticks="inside", ticklen=4, tickwidth=1.5, dtick=1, tick0=395)),
    yaxis9=frame(domain=yd(792, 1055), range=[0, 790], anchor="x9", showticklabels=False,
                 tick0=3, dtick=157,
                 minor=dict(ticks="inside", ticklen=4, tickwidth=1.5, dtick=78.5, tick0=3)),
    annotations=annotations,
    shapes=shapes,
    hovermode=False,
)
fig.update_layout(**layout)
fig.write_html("out.html", config={"responsive": False, "displayModeBar": False},
               post_script="document.body.style.margin='0px';"
                           "document.body.style.padding='0px';"
                           "document.body.style.overflow='hidden';")
